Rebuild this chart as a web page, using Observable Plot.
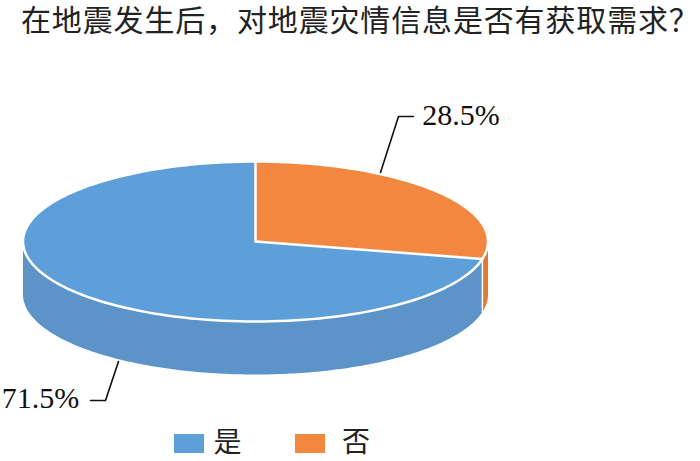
<!DOCTYPE html>
<html><head><meta charset="utf-8">
<script src="https://cdn.jsdelivr.net/npm/d3@7"></script>
<script src="https://cdn.jsdelivr.net/npm/@observablehq/plot@0.6"></script>
<style>
html,body{margin:0;padding:0;background:#fff}
#page{position:relative;width:700px;height:461px}
#title{position:absolute;left:21px;top:3px;font:30px/36px "Liberation Serif","Noto Sans CJK SC";letter-spacing:0.85px;color:#222;white-space:nowrap}
#chart{position:absolute;left:0;top:50px}
.sw{position:absolute;top:434px;width:30px;height:19px}
.lb{position:absolute;top:427px;font:28px/32px "Liberation Serif","Noto Sans CJK SC";color:#222}
svg{display:block}
</style></head><body>
<div id="page"><div id="title"></div><div id="chart"></div></div>
<script>
const titleText = "在地震发生后，对地震灾情信息是否有获取需求？";
const categories = ["是", "否"];
const shares = [71.5, 28.5];
const labels = ["71.5%", "28.5%"];
const topColors = ["#5f9fd9", "#f2883f"];
const wallColors = ["#5c93c9", "#e27a32"];

// layout of the tilted pie
const cx = 255, cy = 241, rx = 232.5, ry = 80, depth = 53;
const startDeg = 360 * shares[1] / 100; // 是 starts where 否 ends, 否 starts at 12 o'clock
const spans = [[startDeg, startDeg + 360 * shares[0] / 100], [0, startDeg]];
const onRim = (deg, dy = 0) => {
  const a = deg * Math.PI / 180;
  return {x: cx + rx * Math.sin(a), y: cy - ry * Math.cos(a) + dy};
};
const arc = (d0, d1, dy = 0) => d3.range(0, 181).map(i => onRim(d0 + (d1 - d0) * i / 180, dy));

const tops = categories.map((c, i) => [{x: cx, y: cy}, ...arc(...spans[i])]);
// the visible wall is the front half of the rim only
const wallSpan = i => [Math.max(spans[i][0], 90), Math.min(spans[i][1], 270)];
const walls = categories.map((c, i) => {
  const [a, b] = wallSpan(i);
  return [...arc(a, b), ...arc(a, b, depth).reverse()];
});
const seam = [onRim(startDeg), onRim(startDeg, depth)];
const spokes = [[onRim(0), {x: cx, y: cy}, onRim(startDeg)]];
const leaders = [
  [{x: 118, y: 361}, {x: 105, y: 400}, {x: 90, y: 400}],
  [{x: 380, y: 172}, {x: 398, y: 116}, {x: 413, y: 116}]
];
const labelPos = [{x: 40, y: 398, text: labels[0]}, {x: 460.5, y: 115, text: labels[1]}];

document.getElementById("title").textContent = titleText;

const chart = Plot.plot({
  width: 700, height: 375,
  marginTop: 0, marginRight: 0, marginBottom: 0, marginLeft: 0,
  x: {type: "linear", domain: [0, 700], range: [0, 700], axis: null},
  y: {type: "linear", domain: [50, 425], range: [0, 375], axis: null},
  style: {background: "transparent"},
  marks: [
    ...walls.map((w, i) => Plot.line(w, {x: "x", y: "y", fill: wallColors[i], stroke: "none", curve: "linear"})),
    Plot.line(seam, {x: "x", y: "y", stroke: "#ffffff", strokeWidth: 1.5}),
    ...tops.map((t, i) => Plot.line(t, {x: "x", y: "y", fill: topColors[i], stroke: "none", curve: "linear"})),
    Plot.line(arc(0, 360), {x: "x", y: "y", stroke: "#ffffff", strokeWidth: 2.5}),
    ...spokes.map(s => Plot.line(s, {x: "x", y: "y", stroke: "#ffffff", strokeWidth: 2.5})),
    ...leaders.map(l => Plot.line(l, {x: "x", y: "y", stroke: "#111111", strokeWidth: 1.6})),
    Plot.text(labelPos, {x: "x", y: "y", text: "text", fontSize: 30, fontFamily: "Liberation Serif", fill: "#111111"})
  ]
});
document.getElementById("chart").appendChild(chart);

const page = document.getElementById("page");
const swatchX = [174, 295], labelX = [213.5, 342];
categories.forEach((c, i) => {
  const s = document.createElement("div");
  s.className = "sw"; s.style.left = swatchX[i] + "px"; s.style.background = topColors[i];
  page.appendChild(s);
  const l = document.createElement("div");
  l.className = "lb"; l.style.left = labelX[i] + "px"; l.textContent = c;
  page.appendChild(l);
});
</script>
</body></html>
